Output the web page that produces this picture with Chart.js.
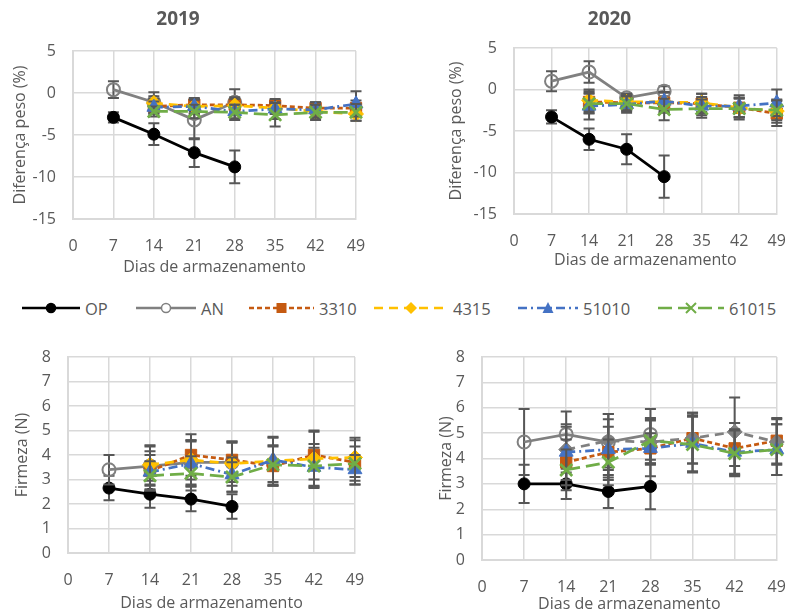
<!DOCTYPE html>
<html>
<head>
<meta charset="utf-8">
<script src="https://cdn.jsdelivr.net/npm/chart.js@4/dist/chart.umd.min.js"></script>
<style>
  html, body { margin: 0; padding: 0; background: #fff; width: 788px; height: 613px; overflow: hidden; }
  canvas { position: absolute; }
  #legend { position: absolute; left: 0; top: 297px; width: 788px; height: 22px; font-family: "Open Sans", sans-serif; font-size: 16.5px; color: #595959; }
  .item { position: absolute; top: 0; height: 22px; display: flex; align-items: center; }
  .item svg { margin-right: 5px; }
</style>
</head>
<body>
<canvas id="peso2019" width="386" height="285" style="left:0;top:0"></canvas>
<canvas id="peso2020" width="348" height="285" style="left:440px;top:0"></canvas>
<canvas id="firm2019" width="394" height="283" style="left:0;top:330px"></canvas>
<canvas id="firm2020" width="358" height="285" style="left:430px;top:330px"></canvas>
<div id="legend"></div>

<script>
// days of storage
const daysControl = [7, 14, 21, 28];
const daysTreat = [14, 21, 28, 35, 42, 49];
const seriesNames = ["OP", "AN", "3310", "4315", "51010", "61015"];

// Diferença peso (%) - 2019
const peso19OP = [-2.9, -4.9, -7.1, -8.8];
const peso19OPerr = [0.6, 1.3, 1.7, 1.95];
const peso19AN = [0.4, -1.1, -3.2, -1.1];
const peso19ANerr = [1.0, 1.2, 2.3, 1.55];
const peso19s3310 = [-1.6, -1.4, -1.4, -1.5, -1.8, -1.8];
const peso19s3310err = [0.9, 0.8, 0.9, 0.6, 0.7, 0.9];
const peso19s4315 = [-1.2, -1.6, -1.5, -1.8, -2.2, -2.5];
const peso19s4315err = [0.8, 0.9, 0.8, 0.7, 0.8, 0.8];
const peso19s51010 = [-1.7, -1.6, -2.2, -1.9, -2.0, -1.3];
const peso19s51010err = [0.7, 0.8, 0.8, 1.2, 0.9, 1.5];
const peso19s61015 = [-2.2, -2.2, -2.3, -2.6, -2.3, -2.3];
const peso19s61015err = [0.6, 0.8, 0.9, 1.4, 0.9, 1.0];

// Diferença peso (%) - 2020
const peso20OP = [-3.3, -6.0, -7.2, -10.5];
const peso20OPerr = [0.8, 1.3, 1.8, 2.55];
const peso20AN = [1.0, 2.1, -1.0, -0.2];
const peso20ANerr = [1.2, 1.3, 0.5, 0.6];
const peso20s3310 = [-1.5, -1.6, -1.6, -1.7, -2.2, -2.9];
const peso20s3310err = [1.3, 0.9, 1.2, 1.2, 1.2, 1.5];
const peso20s4315 = [-1.3, -1.5, -1.5, -1.6, -2.2, -2.6];
const peso20s4315err = [1.3, 1.0, 1.2, 1.1, 1.1, 1.4];
const peso20s51010 = [-2.0, -1.8, -1.4, -2.0, -2.0, -1.6];
const peso20s51010err = [1.6, 1.0, 1.1, 1.1, 1.3, 1.6];
const peso20s61015 = [-1.7, -1.7, -2.4, -2.3, -2.3, -2.5];
const peso20s61015err = [1.2, 0.9, 1.3, 1.1, 1.3, 1.2];

// Firmeza (N) - 2019
const firm19OP = [2.65, 2.4, 2.2, 1.9];
const firm19OPerr = [0.5, 0.55, 0.5, 0.5];
const firm19AN = [3.4, 3.55, 3.7, 3.7];
const firm19ANerr = [0.6, 0.8, 0.9, 0.8];
const firm19s3310 = [3.35, 4.0, 3.8, 3.55, 4.0, 3.7];
const firm19s3310err = [0.8, 0.85, 0.75, 0.8, 1.0, 0.9];
const firm19s4315 = [3.6, 3.8, 3.65, 3.75, 3.85, 3.9];
const firm19s4315err = [0.8, 0.8, 0.9, 1.0, 1.1, 0.8];
const firm19s51010 = [3.3, 3.65, 3.2, 3.8, 3.5, 3.4];
const firm19s51010err = [0.7, 0.9, 0.7, 0.9, 0.8, 0.6];
const firm19s61015 = [3.15, 3.25, 3.1, 3.6, 3.55, 3.65];
const firm19s61015err = [0.6, 0.7, 0.6, 0.8, 0.9, 0.7];

// Firmeza (N) - 2020
const firm20OP = [3.0, 3.0, 2.7, 2.9];
const firm20OPerr = [0.75, 0.6, 0.65, 0.9];
const firm20AN = [4.65, 4.95, 4.65, 4.95];
const firm20ANerr = [1.3, 0.9, 1.1, 1.0];
const firm20s3310 = [3.85, 4.25, 4.4, 4.8, 4.4, 4.7];
const firm20s3310err = [0.9, 1.0, 0.6, 1.0, 1.0, 0.9];
const firm20s4315 = [4.35, 4.7, 4.65, 4.8, 5.05, 4.65];
const firm20s4315err = [0.9, 1.05, 0.9, 1.0, 1.35, 0.9];
const firm20s51010 = [4.25, 4.35, 4.4, 4.6, 4.25, 4.35];
const firm20s51010err = [1.1, 1.2, 1.1, 1.1, 0.9, 1.0];
const firm20s61015 = [3.55, 3.85, 4.7, 4.55, 4.2, 4.35];
const firm20s61015err = [0.8, 0.9, 0.9, 1.1, 0.9, 1.0];

const textColor = "#595959";
const gridColor = "#d9d9d9";
const fontFamily = "'Open Sans', sans-serif";

// look of each series (same order as seriesNames)
const seriesStyle = [
  { color: "#000000", fill: "#000000", dash: [], marker: "circle", radius: 6, pw: 1 },
  { color: "#808080", fill: "rgba(0,0,0,0)", dash: [], marker: "circle", radius: 6.5, pw: 2 },
  { color: "#C55A11", fill: "#C55A11", dash: [5, 3], marker: "rect", radius: 8, pw: 1 },
  { color: "#FFC000", fill: "#FFC000", dash: [9, 6], marker: "rectRot", radius: 7.5, pw: 1 },
  { color: "#4472C4", fill: "#4472C4", dash: [9, 4, 2, 4], marker: "triangle", radius: 8, pw: 1 },
  { color: "#70AD47", fill: "#70AD47", dash: [14, 6], marker: "crossRot", radius: 8.5, pw: 2.75 }
];

// error bars drawn under each series' markers
const errorBars = {
  id: "errorBars",
  beforeDatasetDraw(chart, args) {
    const ds = chart.data.datasets[args.index];
    if (!ds.errors) return;
    const yScale = chart.scales.y;
    const ctx = chart.ctx;
    ctx.save();
    ctx.strokeStyle = "#575757";
    ctx.lineWidth = 2;
    ctx.setLineDash([]);
    args.meta.data.forEach((pt, i) => {
      const v = ds.data[i].y;
      const e = ds.errors[i];
      const top = yScale.getPixelForValue(v + e);
      const bot = yScale.getPixelForValue(v - e);
      ctx.beginPath();
      ctx.moveTo(pt.x, top); ctx.lineTo(pt.x, bot);
      ctx.moveTo(pt.x - 5.5, top); ctx.lineTo(pt.x + 5.5, top);
      ctx.moveTo(pt.x - 5.5, bot); ctx.lineTo(pt.x + 5.5, bot);
      ctx.stroke();
    });
    ctx.restore();
  }
};

function buildChart(id, layout, series, overrides) {
  const datasets = series.map((s, i) => {
    const st = Object.assign({}, seriesStyle[i], (overrides || {})[i]);
    const xs = i < 2 ? daysControl : daysTreat;
    return {
      label: seriesNames[i],
      data: s[0].map((v, j) => ({ x: xs[j], y: v })),
      errors: s[1],
      borderColor: st.color,
      backgroundColor: st.fill,
      borderWidth: 2.75,
      borderDash: st.dash,
      pointStyle: st.marker,
      pointRadius: st.radius,
      pointBorderColor: st.color,
      pointBackgroundColor: st.fill,
      pointBorderWidth: st.pw,
      tension: 0,
      clip: false,
      order: 6 - i
    };
  });

  return new Chart(document.getElementById(id), {
    type: "line",
    data: { datasets },
    plugins: [errorBars],
    options: {
      responsive: false,
      animation: false,
      devicePixelRatio: 1,
      layout: { padding: layout.padding },
      plugins: {
        legend: { display: false },
        tooltip: { enabled: false },
        title: {
          display: !!layout.title,
          text: layout.title,
          color: textColor,
          font: { family: fontFamily, size: 19, weight: "bold" },
          padding: { top: 8.6, bottom: layout.titleGap }
        }
      },
      scales: {
        x: {
          type: "linear",
          min: 0, max: 49,
          ticks: { stepSize: 7, color: textColor, padding: 18, font: { family: fontFamily, size: 16 }, maxRotation: 0 },
          grid: { color: gridColor, lineWidth: 1.5, drawTicks: false },
          border: { color: gridColor, width: 2 },
          title: { display: true, text: "Dias de armazenamento", color: textColor, font: { family: fontFamily, size: 16 }, padding: { top: 0, bottom: layout.xTitlePad } },
          afterFit(s) { s.height = layout.xHeight; s.paddingLeft = 0; s.paddingRight = 0; }
        },
        y: {
          min: layout.yMin, max: layout.yMax,
          ticks: { stepSize: layout.yStep, color: textColor, padding: 17, font: { family: fontFamily, size: 16 } },
          grid: { color: gridColor, lineWidth: 1.5, drawTicks: false },
          border: { color: gridColor, width: 2 },
          title: { display: true, text: layout.yTitle, color: textColor, font: { family: fontFamily, size: 16 }, padding: { top: layout.yTitlePad, bottom: 0 } },
          afterFit(s) { s.width = layout.yWidth; }
        }
      }
    }
  });
}

buildChart("peso2019", {
  title: "2019", titleGap: 19.6, padding: { top: 0, right: 30, bottom: 0, left: 0 },
  xHeight: 66, xTitlePad: 8, yWidth: 73, yTitlePad: 11,
  yMin: -15, yMax: 5, yStep: 5, yTitle: "Diferença peso (%)"
}, [
  [peso19OP, peso19OPerr], [peso19AN, peso19ANerr], [peso19s3310, peso19s3310err],
  [peso19s4315, peso19s4315err], [peso19s51010, peso19s51010err], [peso19s61015, peso19s61015err]
]);

buildChart("peso2020", {
  title: "2020", titleGap: 16.6, padding: { top: 0, right: 9, bottom: 0, left: 0 },
  xHeight: 71, xTitlePad: 15, yWidth: 74, yTitlePad: 6.4,
  yMin: -15, yMax: 5, yStep: 5, yTitle: "Diferença peso (%)"
}, [
  [peso20OP, peso20OPerr], [peso20AN, peso20ANerr], [peso20s3310, peso20s3310err],
  [peso20s4315, peso20s4315err], [peso20s51010, peso20s51010err], [peso20s61015, peso20s61015err]
]);

buildChart("firm2019", {
  title: "", titleGap: 0, padding: { top: 27, right: 39, bottom: 0, left: 0 },
  xHeight: 60, xTitlePad: 0, yWidth: 68, yTitlePad: 13,
  yMin: 0, yMax: 8, yStep: 1, yTitle: "Firmeza (N)"
}, [
  [firm19OP, firm19OPerr], [firm19AN, firm19ANerr], [firm19s3310, firm19s3310err],
  [firm19s4315, firm19s4315err], [firm19s51010, firm19s51010err], [firm19s61015, firm19s61015err]
]);

// in this panel the 4315 series is drawn in grey
buildChart("firm2020", {
  title: "", titleGap: 0, padding: { top: 27, right: 11, bottom: 0, left: 0 },
  xHeight: 55, xTitlePad: 1, yWidth: 52, yTitlePad: 6.4,
  yMin: 0, yMax: 8, yStep: 1, yTitle: "Firmeza (N)"
}, [
  [firm20OP, firm20OPerr], [firm20AN, firm20ANerr], [firm20s3310, firm20s3310err],
  [firm20s4315, firm20s4315err], [firm20s51010, firm20s51010err], [firm20s61015, firm20s61015err]
], { 3: { color: "#808080", fill: "#808080" } });

// shared legend
const legendLeft = [22, 136, 249, 374, 518, 658];
const legendLine = [58, 60, 65, 74, 60, 66];
function markerSvg(st, cx) {
  const c = st.color;
  switch (st.marker) {
    case "circle":
      return `<circle cx="${cx}" cy="11" r="4.5" fill="${st.fill === 'rgba(0,0,0,0)' ? '#fff' : st.fill}" stroke="${c}" stroke-width="1.5"/>`;
    case "rect":
      return `<rect x="${cx - 5}" y="6" width="10" height="10" fill="${c}"/>`;
    case "rectRot":
      return `<polygon points="${cx},5 ${cx + 6},11 ${cx},17 ${cx - 6},11" fill="${c}"/>`;
    case "triangle":
      return `<polygon points="${cx},5 ${cx + 5.5},16 ${cx - 5.5},16" fill="${c}"/>`;
    default:
      return `<path d="M${cx - 5} 6 L${cx + 5} 16 M${cx + 5} 6 L${cx - 5} 16" stroke="${c}" stroke-width="2"/>`;
  }
}
const legend = document.getElementById("legend");
seriesNames.forEach((name, i) => {
  const st = seriesStyle[i];
  const w = legendLine[i];
  const dash = st.dash.length ? `stroke-dasharray="${st.dash.join(' ')}"` : "";
  const item = document.createElement("div");
  item.className = "item";
  item.style.left = legendLeft[i] + "px";
  item.innerHTML = `<svg width="${w}" height="22"><line x1="0" y1="11" x2="${w}" y2="11" stroke="${st.color}" stroke-width="2.5" ${dash}/>${markerSvg(st, w / 2)}</svg><span>${name}</span>`;
  legend.appendChild(item);
});
</script>
</body>
</html>
